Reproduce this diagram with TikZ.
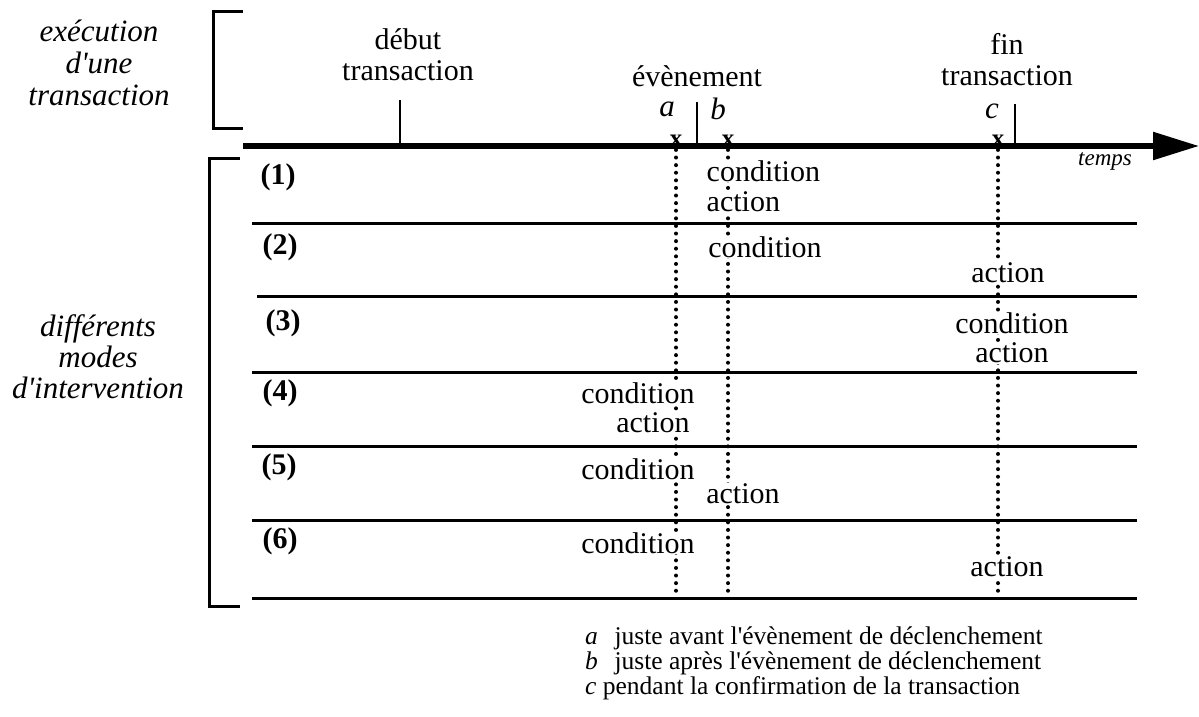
\documentclass[tikz,border=0pt]{standalone}
\usepackage{fontspec}
\setmainfont{Liberation Serif}
\usetikzlibrary{arrows.meta}
\begin{document}
\begin{tikzpicture}[x=1pt,y=-1pt,
  txt/.style={font=\fontsize{30}{31}\selectfont, fill=white, inner sep=0.5pt},
  top/.style={font=\fontsize{30}{31}\selectfont, align=center, inner sep=0.5pt},
  itl/.style={font=\fontsize{31}{32}\selectfont\itshape, align=center, inner sep=0.5pt},
  rowlab/.style={font=\fontsize{30}{30}\selectfont\bfseries, inner sep=1pt},
  note/.style={font=\fontsize{25.5}{25.5}\selectfont, anchor=west, inner sep=0pt},
  xmark/.style={font=\fontsize{25}{25}\selectfont\bfseries, inner sep=0pt},
  brk/.style={line width=3pt},
  sep/.style={line width=3pt},
  tck/.style={line width=2.8pt},
  dots/.style={line width=4pt, line cap=round, dash pattern=on 0pt off 7.6pt}
]
\useasboundingbox (0,0) rectangle (1199,717);

% brackets
\coordinate (b1a) at (243,12); \coordinate (b1b) at (213,12);
\coordinate (b1c) at (213,128); \coordinate (b1d) at (243,128);
\draw[brk] (b1a) -- (b1b) -- (b1c) -- (b1d);
\coordinate (b2a) at (240,158); \coordinate (b2b) at (209,158);
\coordinate (b2c) at (209,606); \coordinate (b2d) at (240,606);
\draw[brk] (b2a) -- (b2b) -- (b2c) -- (b2d);

% time axis
\coordinate (ax0) at (243,146);
\coordinate (ax1) at (1199,146);
\draw[line width=5.5pt, -{Triangle[length=46pt,width=27pt]}] (ax0) -- (ax1);

% ticks
\coordinate (t1a) at (400,100); \coordinate (t1b) at (400,146);
\coordinate (t2a) at (697,102); \coordinate (t2b) at (697,146);
\coordinate (t3a) at (1015,104); \coordinate (t3b) at (1015,146);
\draw[tck] (t1a) -- (t1b);
\draw[tck] (t2a) -- (t2b);
\draw[tck] (t3a) -- (t3b);

% separators
\foreach \y/\xs in {223/252, 296/257, 372/252, 446/252, 520/252, 598/252}{
  \coordinate (s\y a) at (\xs,\y); \coordinate (s\y b) at (1137,\y);
  \draw[sep] (s\y a) -- (s\y b);
}

% markers
\node[xmark] (xa) at (676,141) {x};
\node[xmark] (xb) at (728,141) {x};
\node[xmark] (xc) at (998,141) {x};

% dotted lines
\coordinate (da) at (676,592);
\coordinate (db) at (728,592);
\coordinate (dc) at (998,592);
\draw[dots] (xa.south) ++(0,3) -- (da);
\draw[dots] (xb.south) ++(0,3) -- (db);
\draw[dots] (xc.south) ++(0,3) -- (dc);

% left labels
\node[itl] (exe) at (99,63) {exécution\\d\textquotesingle une\\transaction};
\node[itl, font=\fontsize{31}{31}\selectfont\itshape] (diff) at (98,357) {différents\\modes\\d\textquotesingle intervention};

% top labels
\node[top] (deb) at (408,55) {début\\transaction};
\node[top] (evt) at (697,76) {évènement};
\node[top] (fin) at (1007,60) {fin\\transaction};
\node[itl, inner sep=0pt] (la) at (667,109) {a};
\node[itl, inner sep=0pt] (lb) at (718,109) {b};
\node[itl, inner sep=0pt] (lc) at (992,111) {c};
\node[font=\fontsize{23}{23}\selectfont\itshape, inner sep=0pt] (tps) at (1105,161) {temps};

% row labels
\node[rowlab] (r1) at (278,177) {(1)};
\node[rowlab] (r2) at (280,247) {(2)};
\node[rowlab] (r3) at (283,323) {(3)};
\node[rowlab] (r4) at (280,393) {(4)};
\node[rowlab] (r5) at (279,467) {(5)};
\node[rowlab] (r6) at (280,541) {(6)};

% row contents
\node[txt, anchor=west] (c1) at (706,171) {condition};
\node[txt, anchor=west] (a1) at (706,202) {action};
\node[txt] (c2) at (765,247) {condition};
\node[txt] (a2) at (1008,273) {action};
\node[txt] (c3) at (1012,323) {condition};
\node[txt] (a3) at (1012,353) {action};
\node[txt] (c4) at (638,393) {condition};
\node[txt] (a4) at (653,423) {action};
\node[txt] (c5) at (638,469) {condition};
\node[txt] (a5) at (743,494) {action};
\node[txt] (c6) at (638,543) {condition};
\node[txt] (a6) at (1007,567) {action};

% notes
\node[note] (n1) at (585,638) {\textit{a}\hspace{0.4em} juste avant l\textquotesingle évènement de déclenchement};
\node[note] (n2) at (585,663) {\textit{b}\hspace{0.4em} juste après l\textquotesingle évènement de déclenchement};
\node[note] (n3) at (585,688) {\textit{c} pendant la confirmation de la transaction};
\end{tikzpicture}
\end{document}
